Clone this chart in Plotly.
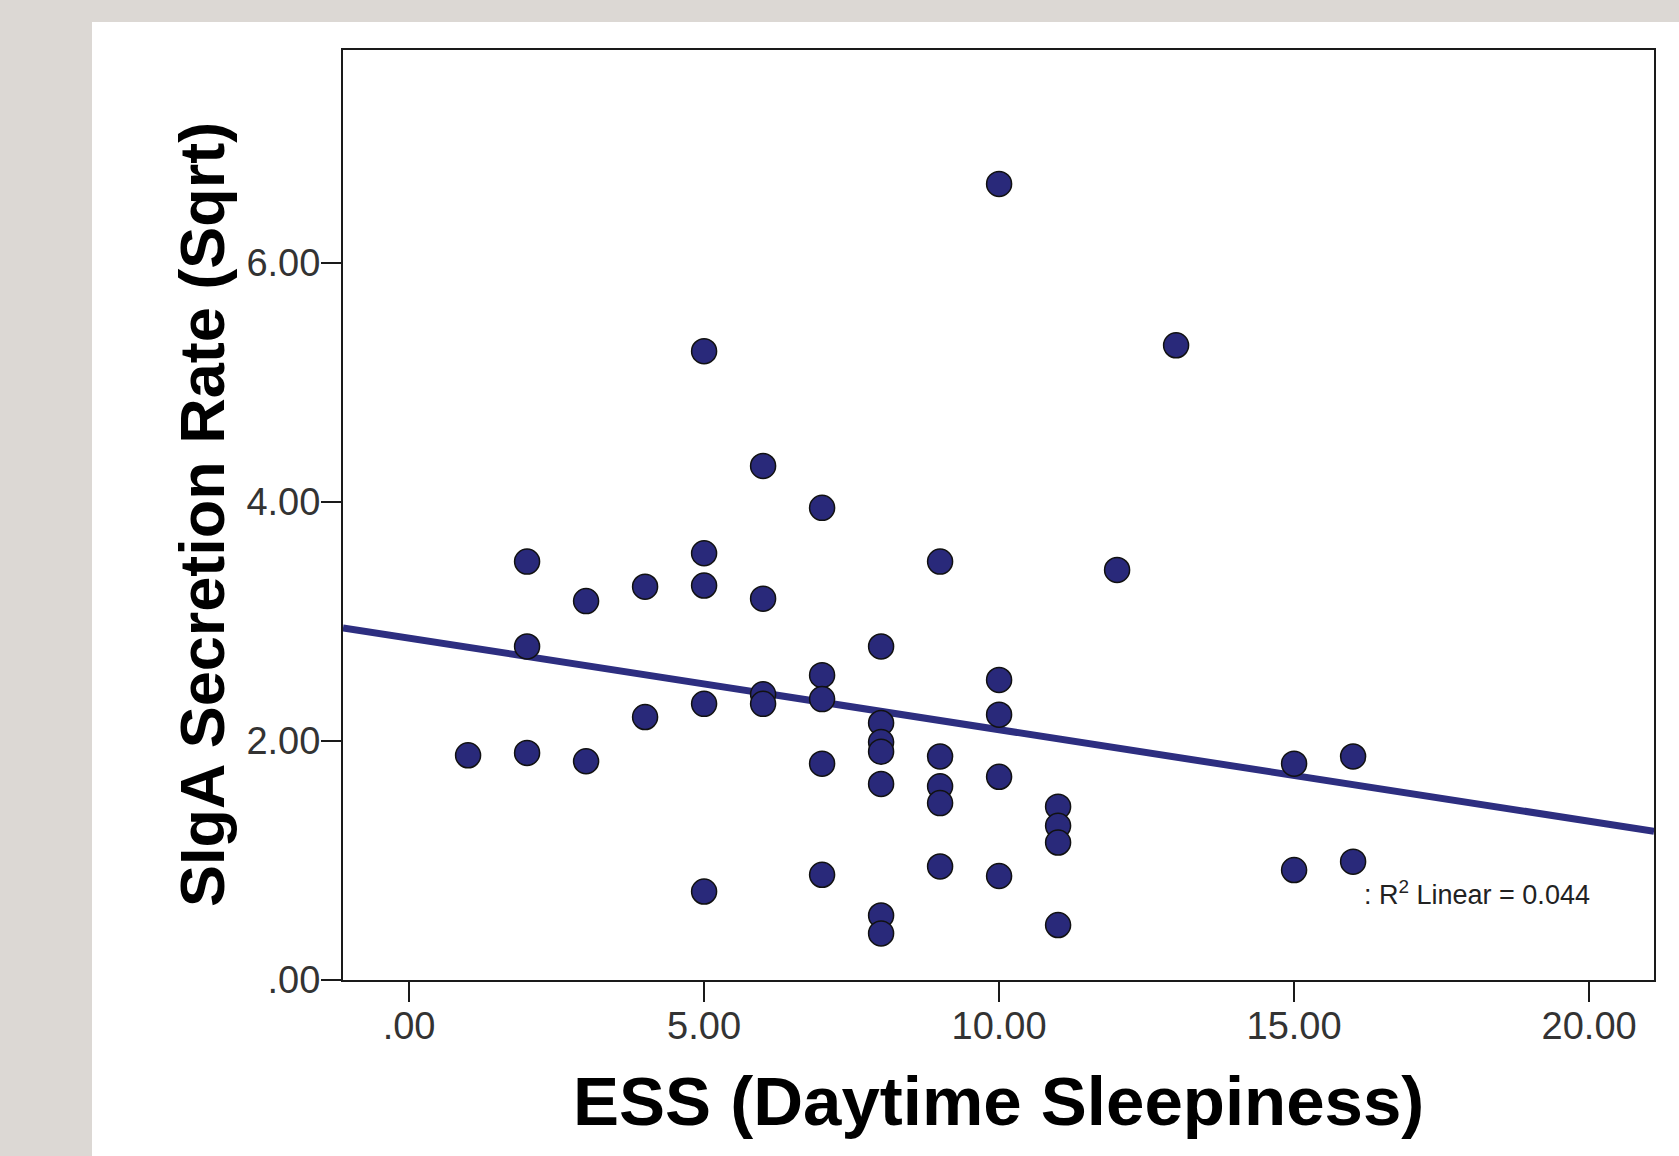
import plotly.graph_objects as go

# ---- data ----
ess = [1,
       2, 2, 2,
       3, 3,
       4, 4,
       5, 5, 5, 5, 5,
       6, 6, 6, 6,
       7, 7, 7, 7, 7,
       8, 8, 8, 8, 8, 8, 8,
       9, 9, 9, 9, 9,
       10, 10, 10, 10, 10,
       11, 11, 11, 11,
       12,
       13,
       15, 15,
       16, 16]
siga = [1.88,
        3.50, 2.79, 1.90,
        3.17, 1.83,
        3.29, 2.20,
        5.26, 3.57, 3.30, 2.31, 0.74,
        4.30, 3.19, 2.39, 2.31,
        3.95, 2.55, 2.35, 1.81, 0.88,
        2.79, 2.15, 1.99, 1.91, 1.64, 0.54, 0.39,
        3.50, 1.87, 1.62, 1.48, 0.95,
        6.66, 2.51, 2.22, 1.70, 0.87,
        1.45, 1.29, 1.15, 0.46,
        3.43,
        5.31,
        1.81, 0.92,
        1.87, 0.99]

fit_intercept = 2.86
fit_slope = -0.0766
r2_text = ": R<sup>2</sup> Linear = 0.044"

x_tickvals = [0, 5, 10, 15, 20]
x_ticktext = [".00", "5.00", "10.00", "15.00", "20.00"]
y_tickvals = [0, 2, 4, 6]
y_ticktext = [".00", "2.00", "4.00", "6.00"]

x_title = "ESS (Daytime Sleepiness)"
y_title = "SIgA Secretion Rate (Sqrt)"

x_range = [-1.12, 21.1]
y_range = [0, 7.78]

NAVY = "#29297a"
LINE_NAVY = "#2d2e80"
FONT = "Liberation Sans, Arial, sans-serif"

fig = go.Figure()

line_x = list(x_range)
line_y = [fit_intercept + fit_slope * v for v in line_x]
fig.add_trace(go.Scatter(x=line_x, y=line_y, mode="lines",
                         line=dict(color=LINE_NAVY, width=7),
                         hoverinfo="skip", showlegend=False, cliponaxis=True))

fig.add_trace(go.Scatter(x=ess, y=siga, mode="markers",
                         marker=dict(size=25, color=NAVY,
                                     line=dict(color="#111111", width=1.5)),
                         showlegend=False))

W, H = 1679, 1156
L, R, T, B = 343, 25, 50, 176
pw = W - L - R
ph = H - T - B

def px_to_paper_x(px):
    return (px - L) / pw

def px_to_paper_y(py):
    return (H - B - py) / ph

axis_common = dict(showgrid=False, zeroline=False, showline=True,
                   linecolor="#1a1a1a", linewidth=2, mirror=True,
                   ticks="outside", ticklen=20, tickwidth=2, tickcolor="#1a1a1a",
                   tickfont=dict(family=FONT, size=38, color="#333333"))

fig.update_layout(
    width=W, height=H,
    margin=dict(l=L, r=R, t=T, b=B, autoexpand=False),
    paper_bgcolor="#dcd8d4",
    plot_bgcolor="white",
    xaxis=dict(range=x_range, tickvals=x_tickvals, ticktext=x_ticktext,
               ticklabelstandoff=-9, **axis_common),
    yaxis=dict(range=y_range, tickvals=y_tickvals, ticktext=y_ticktext,
               ticklabelstandoff=-7, **axis_common),
    shapes=[dict(type="rect", xref="paper", yref="paper", layer="below",
                 x0=px_to_paper_x(92), x1=px_to_paper_x(W + 20),
                 y0=px_to_paper_y(H + 20), y1=px_to_paper_y(22),
                 fillcolor="white", line=dict(width=0))],
    annotations=[
        dict(text=x_title, xref="paper", yref="paper",
             x=0.5, y=px_to_paper_y(1101), xanchor="center", yanchor="middle",
             showarrow=False, font=dict(family=FONT, size=69, color="black", weight="bold")),
        dict(text=y_title, xref="paper", yref="paper", textangle=-90,
             x=px_to_paper_x(202), y=0.5, xanchor="center", yanchor="middle",
             showarrow=False, font=dict(family=FONT, size=63, color="black", weight="bold")),
        dict(text=r2_text, xref="x", yref="y", x=18.1, y=0.73,
             xanchor="center", yanchor="middle", showarrow=False,
             font=dict(family=FONT, size=27, color="#222222")),
    ],
)

fig.write_html("out.html", config={"displayModeBar": False},
               post_script="document.body.style.margin='0';document.body.style.overflow='hidden';")
